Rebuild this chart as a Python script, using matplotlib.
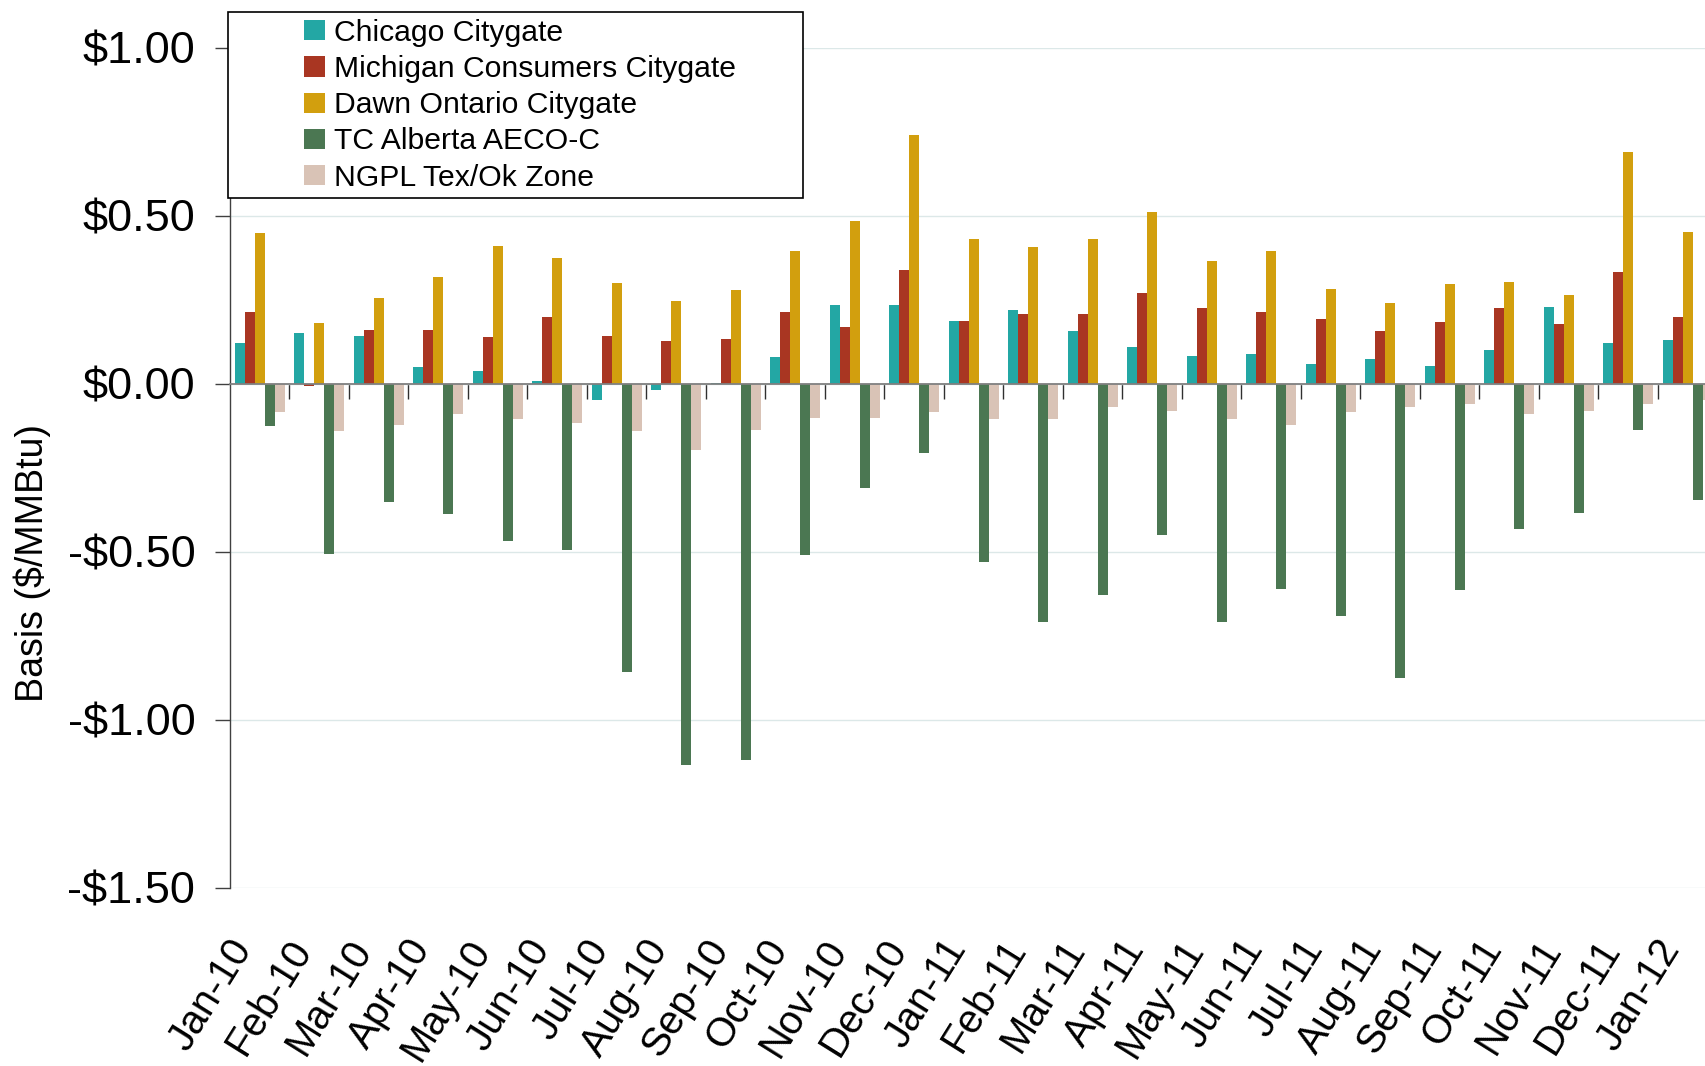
import matplotlib
matplotlib.use("Agg")
import matplotlib.pyplot as plt
import numpy as np
from matplotlib.patches import Rectangle, Patch
from matplotlib.ticker import FuncFormatter

plt.rcParams['font.family'] = ['Liberation Sans', 'DejaVu Sans']

months = ['Jan-10', 'Feb-10', 'Mar-10', 'Apr-10', 'May-10', 'Jun-10', 'Jul-10', 'Aug-10',
          'Sep-10', 'Oct-10', 'Nov-10', 'Dec-10', 'Jan-11', 'Feb-11', 'Mar-11', 'Apr-11',
          'May-11', 'Jun-11', 'Jul-11', 'Aug-11', 'Sep-11', 'Oct-11', 'Nov-11', 'Dec-11', 'Jan-12']

chicago = [0.121, 0.151, 0.144, 0.052, 0.040, 0.010, -0.047, -0.018, 0.004, 0.081, 0.234, 0.234,
           0.187, 0.219, 0.157, 0.109, 0.082, 0.088, 0.061, 0.073, 0.053, 0.101, 0.229, 0.122, 0.130]
michigan = [0.213, -0.006, 0.162, 0.162, 0.141, 0.198, 0.144, 0.129, 0.135, 0.213, 0.171, 0.339,
            0.187, 0.207, 0.207, 0.270, 0.225, 0.213, 0.192, 0.157, 0.184, 0.226, 0.178, 0.334, 0.199]
dawn = [0.449, 0.183, 0.255, 0.317, 0.410, 0.374, 0.302, 0.246, 0.281, 0.395, 0.485, 0.742,
        0.431, 0.407, 0.431, 0.512, 0.366, 0.395, 0.282, 0.241, 0.298, 0.304, 0.265, 0.689, 0.453]
aeco = [-0.124, -0.507, -0.351, -0.386, -0.466, -0.495, -0.856, -1.134, -1.119, -0.510, -0.309, -0.206,
        -0.530, -0.707, -0.628, -0.448, -0.707, -0.610, -0.690, -0.875, -0.613, -0.433, -0.383, -0.136, -0.345]
ngpl = [-0.083, -0.141, -0.121, -0.088, -0.103, -0.115, -0.141, -0.197, -0.136, -0.100, -0.100, -0.083,
        -0.103, -0.103, -0.068, -0.080, -0.103, -0.121, -0.083, -0.068, -0.059, -0.088, -0.080, -0.059, -0.047]

names = ['Chicago Citygate', 'Michigan Consumers Citygate', 'Dawn Ontario Citygate',
         'TC Alberta AECO-C', 'NGPL Tex/Ok Zone']
colors = ['#23a7a4', '#a93622', '#d29f0e', '#4b7752', '#d9c3b6']
series = [chicago, michigan, dawn, aeco, ngpl]

fig = plt.figure(figsize=(17.05, 10.66), dpi=100)
ax = fig.add_axes([230/1705, 1 - 888/1066, 1475/1705, 840/1066])

x = np.arange(len(months))
w = 0.168
for k, (vals, col) in enumerate(zip(series, colors)):
    ax.bar(x + (k - 2) * w, vals, width=w, color=col, linewidth=0, zorder=2)

ax.set_xlim(-0.5, -0.5 + 1475/59.5)
ax.set_ylim(-1.5, 1.0)
ax.set_yticks([-1.5, -1.0, -0.5, 0.0, 0.5, 1.0])
ax.yaxis.set_major_formatter(FuncFormatter(lambda v, p: ('-$%.2f' % -v) if v < 0 else ('$%.2f' % v)))
ax.tick_params(axis='y', labelsize=32.5, length=11, width=1, color='#404040', pad=14)
ax.grid(axis='y', color='#dce8e8', linewidth=1.0, zorder=0)
ax.set_axisbelow(True)

# category axis sits on zero, boundary ticks pointing down
ax.spines['bottom'].set_position(('data', 0))
ax.spines['bottom'].set_color('#808080')
ax.spines['bottom'].set_linewidth(1.3)
ax.spines['bottom'].set_zorder(3)
ax.spines['left'].set_color('#404040')
ax.spines['left'].set_linewidth(1.0)
ax.spines['top'].set_visible(False)
ax.spines['right'].set_visible(False)
ax.set_xticks(x[:-1] + 0.5)
ax.set_xticklabels([])
ax.tick_params(axis='x', length=11, width=1, color='#303030', direction='out')

for i, m in enumerate(months):
    ax.annotate(m, xy=(i, 0), xycoords=ax.get_xaxis_transform(), xytext=(0, -32),
                textcoords='offset points', rotation=58, ha='right', va='top', fontsize=29)

fig.text(32.5/1705, 1 - 563/1066, 'Basis ($/MMBtu)', rotation=90, ha='center', va='center', fontsize=27)

# legend box
fig.add_artist(Rectangle((228/1705, 1 - 198/1066), 574.5/1705, 186.3/1066, transform=fig.transFigure,
                         facecolor='white', edgecolor='black', linewidth=1.2, zorder=4))
handles = [Patch(facecolor=c, edgecolor='none') for c in colors]
leg = fig.legend(handles, names, loc='upper left', bbox_to_anchor=(304/1705, 1 - 19/1066),
                 frameon=False, fontsize=21.7, borderpad=0, handlelength=0.7, handleheight=0.65,
                 handletextpad=0.3, labelspacing=0.27, borderaxespad=0)
leg.set_zorder(5)

plt.savefig('out.png', dpi=100)
